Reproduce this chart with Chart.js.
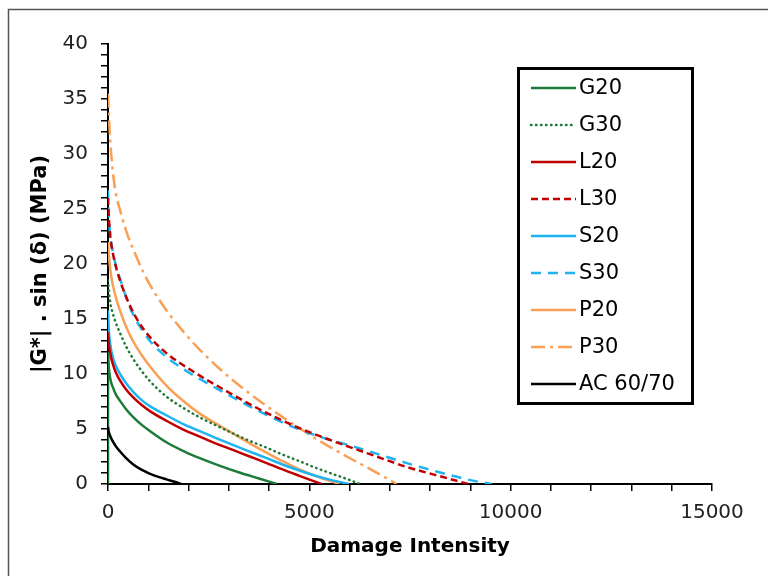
<!DOCTYPE html>
<html>
<head>
<meta charset="utf-8">
<script src="https://cdn.jsdelivr.net/npm/chart.js@4.4.0/dist/chart.umd.min.js"></script>
<style>
  html, body { margin: 0; padding: 0; background: #fff; }
</style>
</head>
<body>
<canvas id="chart" width="768" height="576"></canvas>
<script>
// series names, in legend order
const seriesNames = ['G20', 'G30', 'L20', 'L30', 'S20', 'S30', 'P20', 'P30', 'AC 60/70'];

// damage intensity (x) and |G*|.sin(d) in MPa (y)
const g20D = [0, 20, 60, 120, 200, 290, 450, 620, 830, 1030, 1450, 1900, 2280, 2780, 3300, 3750, 4190];
const g20G = [12, 10.6, 9.5, 8.8, 8.1, 7.6, 6.8, 6.1, 5.4, 4.85, 3.8, 2.95, 2.35, 1.65, 1.0, 0.5, 0];

const g30D = [0, 20, 60, 120, 200, 290, 450, 620, 830, 1030, 1450, 1900, 2280, 2700, 3100, 3500, 3940, 4350, 4770, 5140, 5510, 5900, 6260];
const g30G = [18.5, 17.6, 16.4, 15.5, 14.6, 13.8, 12.5, 11.4, 10.3, 9.4, 7.95, 6.85, 6.05, 5.3, 4.6, 3.95, 3.3, 2.65, 2.05, 1.5, 1.0, 0.5, 0];

const l20D = [0, 20, 60, 120, 200, 300, 450, 620, 830, 1030, 1450, 1870, 2280, 2700, 3100, 3520, 3940, 4350, 4770, 5300];
const l20G = [13.8, 12.8, 11.8, 10.9, 10.1, 9.4, 8.6, 7.9, 7.2, 6.65, 5.75, 4.95, 4.3, 3.65, 3.1, 2.5, 1.9, 1.3, 0.72, 0];

const l30D = [0, 20, 60, 120, 200, 300, 450, 700, 1030, 1450, 1870, 2280, 2940, 3600, 4430, 5260, 6010, 6590, 7420, 8250, 8950];
const l30G = [26, 24.3, 22.4, 21.0, 19.7, 18.5, 17.0, 15.1, 13.4, 11.9, 10.8, 9.85, 8.45, 7.1, 5.6, 4.35, 3.35, 2.6, 1.55, 0.7, 0];

const s20D = [0, 20, 60, 120, 200, 300, 450, 620, 830, 1030, 1450, 1870, 2280, 2700, 3100, 3520, 3940, 4350, 4770, 5150, 5550, 5980];
const s20G = [15.8, 14.0, 12.6, 11.5, 10.7, 10.0, 9.15, 8.4, 7.65, 7.1, 6.25, 5.45, 4.8, 4.15, 3.55, 2.95, 2.35, 1.75, 1.2, 0.75, 0.35, 0];

const s30D = [0, 20, 60, 120, 200, 330, 450, 620, 830, 1030, 1450, 1870, 2280, 2940, 3600, 4430, 5260, 6010, 6590, 7420, 8250, 9000, 9530];
const s30G = [26.7, 24.5, 22.5, 21.1, 19.8, 18.3, 17.0, 15.45, 14.1, 13.05, 11.55, 10.45, 9.55, 8.2, 6.9, 5.45, 4.3, 3.5, 2.85, 1.9, 1.05, 0.35, 0];

const p20D = [0, 20, 60, 120, 200, 290, 450, 620, 830, 1030, 1450, 1870, 2280, 2700, 3100, 3520, 3940, 4350, 4770, 5250, 5750];
const p20G = [22, 20.9, 19.4, 18.1, 16.9, 15.85, 14.3, 13.0, 11.75, 10.75, 8.95, 7.55, 6.4, 5.45, 4.6, 3.7, 2.85, 2.05, 1.3, 0.6, 0];

const p30D = [0, 20, 40, 80, 160, 330, 490, 700, 870, 1075, 1450, 1860, 2280, 2980, 3600, 4430, 5260, 5930, 6590, 7170];
const p30G = [35.5, 33.7, 32.2, 30.0, 27.2, 24.5, 22.6, 20.7, 19.3, 17.9, 15.8, 13.9, 12.2, 9.8, 8.0, 5.85, 3.9, 2.5, 1.2, 0];

const acD = [0, 10, 40, 80, 140, 200, 300, 450, 620, 830, 1030, 1250, 1450, 1650, 1820];
const acG = [5.2, 4.9, 4.5, 4.15, 3.75, 3.4, 2.95, 2.35, 1.8, 1.3, 0.95, 0.65, 0.42, 0.2, 0];

// the G20 trace also runs up the y axis from 0
const g20AxisD = [0, 0];
const g20AxisG = [0, 12];

const xRange = [0, 15000];
const yRange = [0, 40];

const seriesD = [g20D, g30D, l20D, l30D, s20D, s30D, p20D, p30D, acD];
const seriesG = [g20G, g30G, l20G, l30G, s20G, s30G, p20G, p30G, acG];

const green = '#1E7B3A';
const red = '#C00000';
const blue = '#1EB4F0';
const orange = '#F9A057';
const styles = [
  { color: green, dash: [] },
  { color: green, dash: [0.5, 4.5], cap: 'round' },
  { color: red, dash: [] },
  { color: red, dash: [7, 4] },
  { color: blue, dash: [] },
  { color: blue, dash: [10, 7] },
  { color: orange, dash: [] },
  { color: orange, dash: [14, 5, 3, 5] },
  { color: '#000000', dash: [] }
];

function pairs(xs, ys) {
  return xs.map((x, i) => ({ x: x, y: ys[i] }));
}

const datasets = seriesNames.map((name, i) => ({
  label: name,
  data: pairs(seriesD[i], seriesG[i]),
  borderColor: styles[i].color,
  borderWidth: 2.5,
  borderDash: styles[i].dash,
  borderCapStyle: styles[i].cap || 'butt',
  pointRadius: 0,
  fill: false,
  cubicInterpolationMode: 'monotone'
}));
datasets.push({
  label: 'G20 axis',
  inLegend: false,
  data: pairs(g20AxisD, g20AxisG),
  borderColor: green,
  borderWidth: 2.5,
  pointRadius: 0,
  fill: false
});

const FONT = "'DejaVu Sans', Verdana, sans-serif";

// white page, outer frame and boxed legend
const framePlugin = {
  id: 'frame',
  beforeDraw(chart) {
    const c = chart.ctx;
    c.save();
    c.fillStyle = '#fff';
    c.fillRect(0, 0, chart.width, chart.height);
    c.restore();
  },
  afterDraw(chart) {
    const c = chart.ctx;
    c.save();
    c.strokeStyle = '#555';
    c.lineWidth = 1.5;
    c.strokeRect(8.5, 9.5, 800, 600);

    // legend box
    c.strokeStyle = '#000';
    c.lineWidth = 3;
    c.strokeRect(518.5, 68.5, 174, 335);
    c.font = '21px ' + FONT;
    c.textBaseline = 'middle';
    c.fillStyle = '#000';
    chart.data.datasets.filter(ds => ds.inLegend !== false).forEach((ds, i) => {
      const y = 88 + i * 37;
      c.beginPath();
      c.strokeStyle = ds.borderColor;
      c.lineWidth = 2.5;
      c.setLineDash(ds.borderDash);
      c.lineCap = ds.borderCapStyle;
      c.moveTo(531, y);
      c.lineTo(576, y);
      c.stroke();
      c.setLineDash([]);
      c.fillText(ds.label, 579, y + 1);
    });
    c.restore();
  }
};

new Chart(document.getElementById('chart'), {
  type: 'line',
  data: { datasets: datasets },
  plugins: [framePlugin],
  options: {
    responsive: false,
    animation: false,
    layout: { padding: { top: 44, right: 56, bottom: 0, left: 0 } },
    plugins: {
      legend: { display: false },
      tooltip: { enabled: false }
    },
    scales: {
      x: {
        type: 'linear',
        min: xRange[0],
        max: xRange[1],
        afterFit(scale) { scale.height = 92; },
        border: { display: true, color: '#000', width: 2 },
        grid: { drawOnChartArea: false, drawTicks: true, tickLength: 7, color: '#000', lineWidth: 1.5 },
        ticks: {
          stepSize: 1000,
          autoSkip: false,
          maxRotation: 0,
          padding: 10,
          color: '#222',
          font: { family: FONT, size: 20 },
          callback: v => (v % 5000 === 0 ? String(v) : '')
        },
        title: {
          display: true,
          text: 'Damage Intensity',
          color: '#000',
          font: { family: FONT, size: 20, weight: 'bold' },
          padding: { top: 0, bottom: 17 }
        }
      },
      y: {
        min: yRange[0],
        max: yRange[1],
        afterFit(scale) { scale.width = 108; },
        border: { display: true, color: '#000', width: 2 },
        grid: { drawOnChartArea: false, drawTicks: true, tickLength: 7, color: '#000', lineWidth: 1.5 },
        ticks: {
          stepSize: 1,
          autoSkip: false,
          padding: 13,
          color: '#222',
          font: { family: FONT, size: 20 },
          callback: v => (v % 5 === 0 ? String(v) : '')
        },
        title: {
          display: true,
          text: '|G*| . sin (δ) (MPa)',
          color: '#000',
          font: { family: FONT, size: 21, weight: 'bold' },
          padding: { top: 28, bottom: 0 }
        }
      }
    }
  }
});
</script>
</body>
</html>
